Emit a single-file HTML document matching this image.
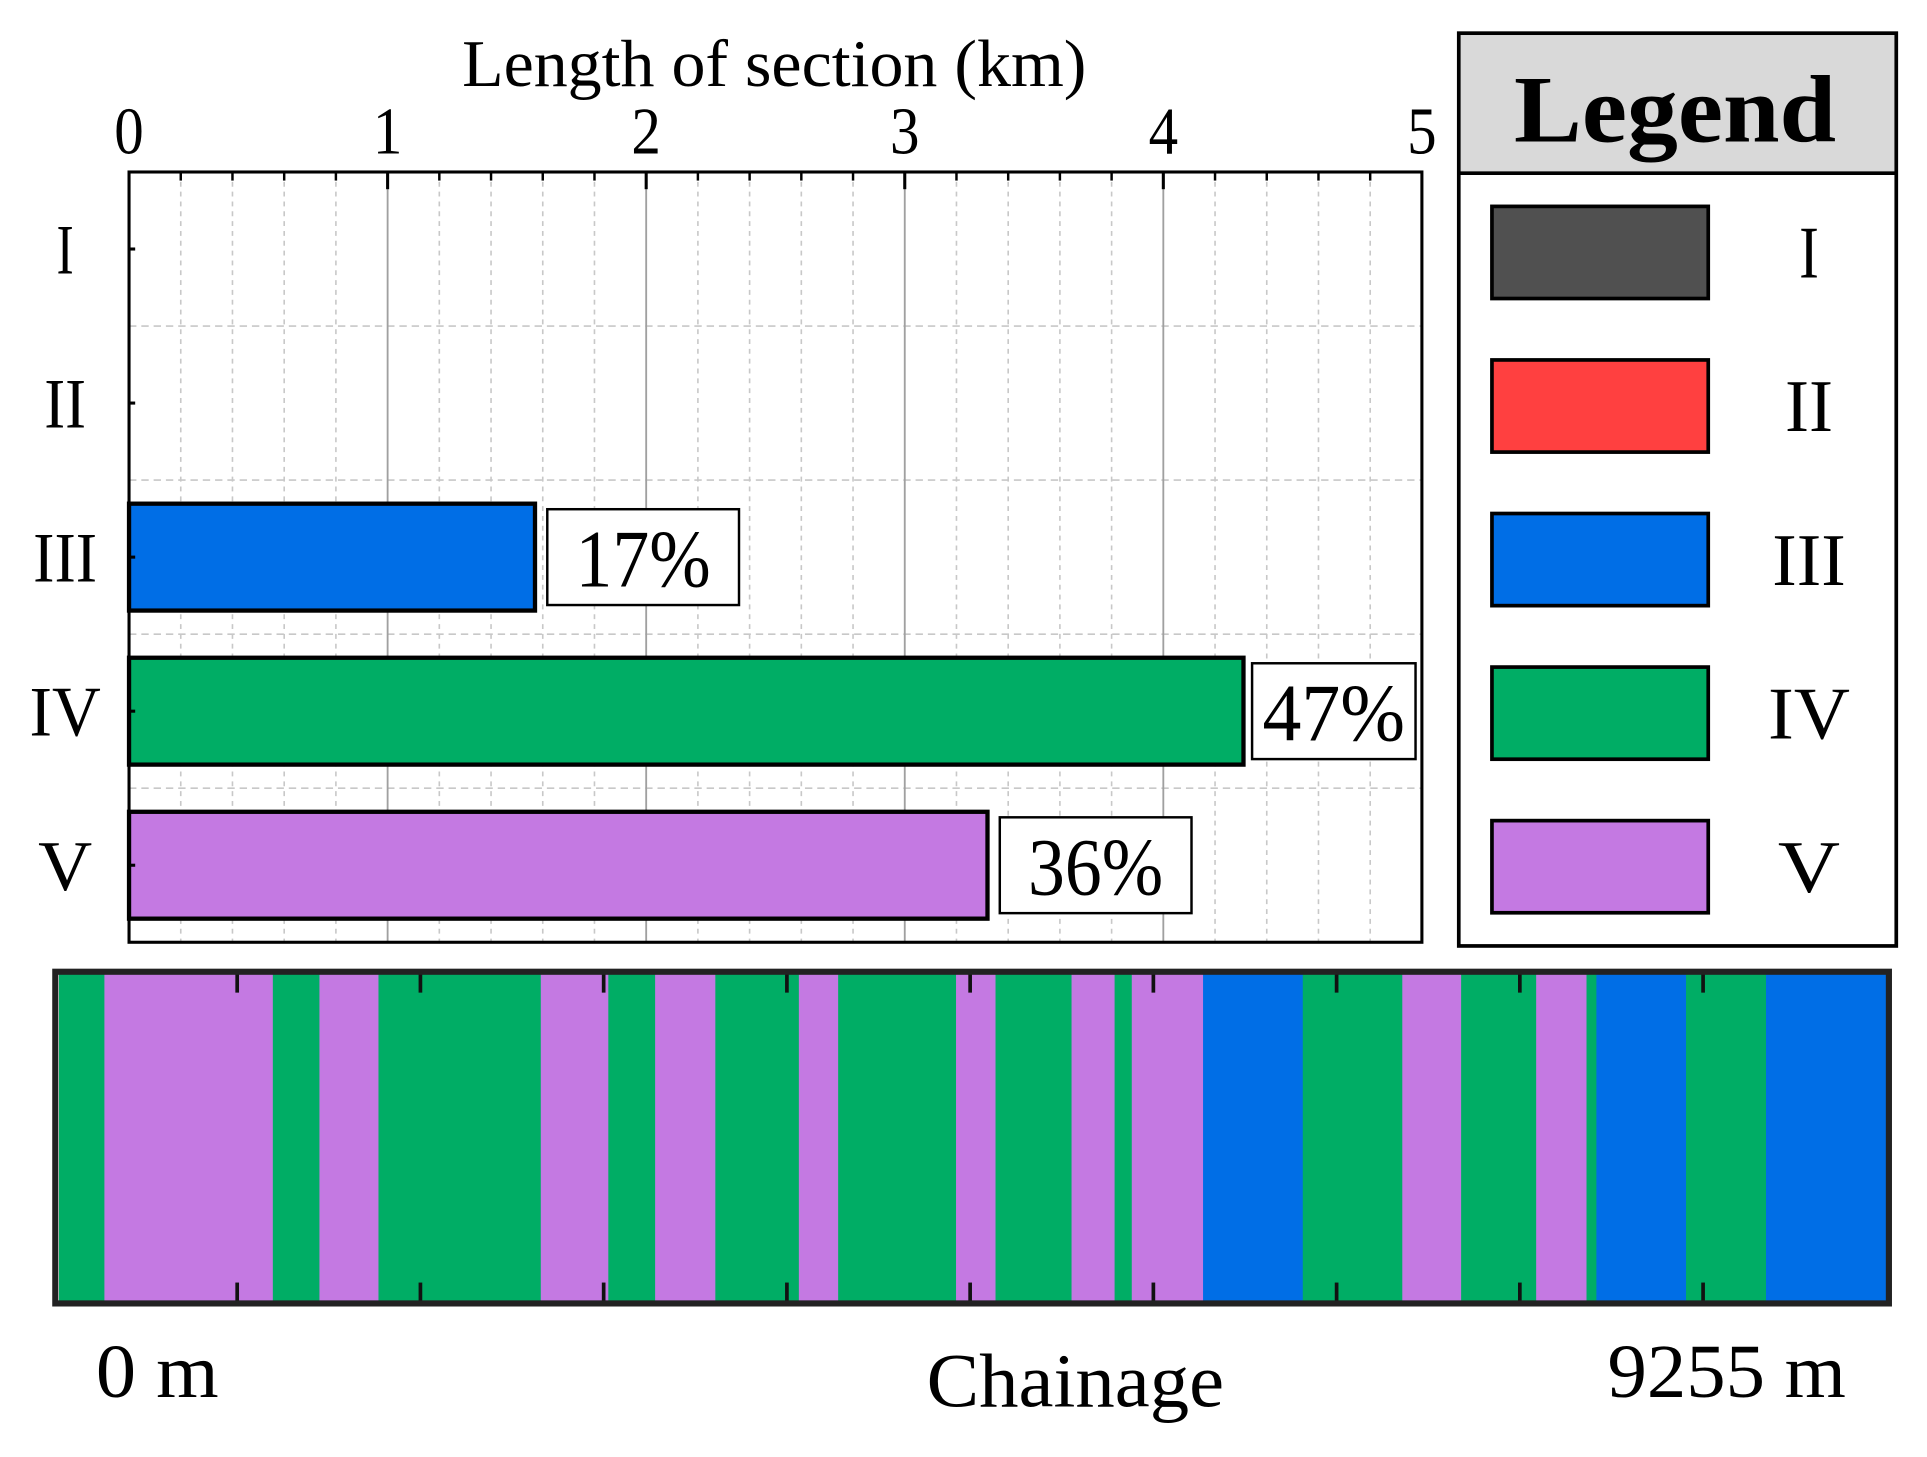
<!DOCTYPE html>
<html><head><meta charset="utf-8"><style>
html,body{margin:0;padding:0;background:#fff}
svg{display:block}
text{font-family:"Liberation Serif",serif;fill:#000}
</style></head><body>
<svg id="c" width="1927" height="1457" viewBox="0 0 1568 1186" preserveAspectRatio="none">
<g id="grid"></g>
<g id="bars"></g>
<g id="axes"></g>
<g id="legend"></g>
<g id="strip"></g>
</svg>
<script>
const categories = ["I","II","III","IV","V"];
const lengths = [0, 0, 1.57, 4.31, 3.32];
const percents = ["", "", "17%", "47%", "36%"];
const xTicks = [0,1,2,3,4,5];
const colors = ["#505050","#ff4040","#006ee6","#00ad65","#c479e2"];
// chainage segments: end positions in metres and class index
const segEnds = [230,1083,1319,1618,2440,2782,3019,3324,3747,3946,4543,4743,5128,5346,5433,5794,6299,6803,7101,7481,7736,7786,8240,8645,9255];
const segClass = [3,4,3,4,3,4,3,4,3,4,3,4,3,4,3,4,2,3,4,3,4,3,2,3,2];
const totalChainage = 9255;

const NS="http://www.w3.org/2000/svg";
function mk(tag, attrs, parent, txt){const e=document.createElementNS(NS,tag);for(const k in attrs)e.setAttribute(k,attrs[k]);if(txt!==undefined)e.textContent=txt;parent.appendChild(e);return e;}
const L=105,R=1157,T=140,B=767;
const xs=v=>L+(v/5)*(R-L);
const band=(B-T)/categories.length;
const yc=i=>T+band*(i+0.5);
const grid=document.getElementById('grid'),bars=document.getElementById('bars'),axes=document.getElementById('axes');
const romanW={"I":14,"II":34,"III":52,"IV":58,"V":44};

for(let k=1;k<25;k++){const v=k*0.2;if(k%5===0)continue;
 const l=mk('line',{x1:xs(v),x2:xs(v),y1:T,y2:B,stroke:'#c8c8c8','stroke-width':1.3,'stroke-dasharray':'4,4'},grid);
 
 
 mk('line',{x1:xs(v),x2:xs(v),y1:T,y2:T+7,stroke:'#000','stroke-width':2},axes);
}
for(let i=1;i<categories.length;i++){
 const l=mk('line',{x1:L,x2:R,y1:T+band*i,y2:T+band*i,stroke:'#c8c8c8','stroke-width':1.3,'stroke-dasharray':'6,4'},grid);
 
 
}
xTicks.forEach(v=>{
 if(v>0&&v<5){const l=mk('line',{x1:xs(v),x2:xs(v),y1:T,y2:B,stroke:'#a0a0a0','stroke-width':1.5},grid);
  
  
  mk('line',{x1:xs(v),x2:xs(v),y1:T,y2:T+14,stroke:'#000','stroke-width':2.5},axes);}
 const t=mk('text',{x:xs(v),y:125,'text-anchor':'middle','font-size':54,textLength:24,lengthAdjust:'spacingAndGlyphs'},axes,String(v));
 
 
});
mk('rect',{x:L,y:T,width:R-L,height:B-T,fill:'none',stroke:'#000','stroke-width':2.5},axes);
const title=mk('text',{x:630,y:70,'text-anchor':'middle','font-size':54,textLength:508,lengthAdjust:'spacingAndGlyphs'},axes,'Length of section (km)');



categories.forEach((c,i)=>{
 mk('line',{x1:L,x2:L+5,y1:yc(i),y2:yc(i),stroke:'#000','stroke-width':2.5},axes);
 const t=mk('text',{x:53,y:yc(i)+20,'text-anchor':'middle','font-size':58,textLength:romanW[c],lengthAdjust:'spacingAndGlyphs'},axes,c);
 
 
 if(lengths[i]>0){
  const bh=87,by=yc(i)-bh/2;
  const r=mk('rect',{x:L,y:by,width:xs(lengths[i])-L,height:bh,fill:colors[i],stroke:'#000','stroke-width':3.5},bars);
  
  
  const bw=(i===3)?133:156;
  const bx=(i===3)?xs(lengths[i])+7:xs(lengths[i])+10;
  const box=mk('rect',{x:bx,y:yc(i)-39,width:bw,height:78,fill:'#fff',stroke:'#000','stroke-width':2},bars);
  
  
  const pt=mk('text',{x:bx+bw/2,y:yc(i)+24,'text-anchor':'middle','font-size':66,textLength:(i===3)?116:110,lengthAdjust:'spacingAndGlyphs'},bars,percents[i]);
  
  
 }
});

const lg=document.getElementById('legend');
mk('rect',{x:1187,y:27,width:356,height:114,fill:'#d9d9d9'},lg);
mk('rect',{x:1187,y:27,width:356,height:743,fill:'none',stroke:'#000','stroke-width':3},lg);
mk('line',{x1:1187,x2:1543,y1:141,y2:141,stroke:'#000','stroke-width':3},lg);
const lt=mk('text',{x:1363,y:115,'text-anchor':'middle','font-size':78,'font-weight':'bold',textLength:262,lengthAdjust:'spacingAndGlyphs'},lg,'Legend');


categories.forEach((c,i)=>{
 const y=168+i*125;
 const s=mk('rect',{x:1214,y:y,width:176,height:75,fill:colors[i],stroke:'#000','stroke-width':3},lg);
 
 
 const t=mk('text',{x:1472,y:y+58,'text-anchor':'middle','font-size':60,textLength:romanW[c]*1.15,lengthAdjust:'spacingAndGlyphs'},lg,c);
 
 
});

const st=document.getElementById('strip');
const SL=48,SR=1535,ST=793,SB=1059;
const sx=m=>SL+(m/totalChainage)*(SR-SL);
let prev=0;
segEnds.forEach((e,i)=>{
 const r=mk('rect',{x:sx(prev),y:ST,width:sx(e)-sx(prev)+0.5,height:SB-ST,fill:colors[segClass[i]]},st);
 
 
 prev=e;
});
for(let k=1;k<=9;k++){const x=193+(k-1)*149.1;
 mk('line',{x1:x,x2:x,y1:ST,y2:ST+15,stroke:'#111','stroke-width':3},st);
 mk('line',{x1:x,x2:x,y1:SB-15,y2:SB,stroke:'#111','stroke-width':3},st);}
mk('rect',{x:45,y:791,width:1492,height:270,fill:'none',stroke:'#222','stroke-width':5},st);
const t0=mk('text',{x:78,y:1137,'font-size':62,textLength:100,lengthAdjust:'spacingAndGlyphs'},st,'0 m');


const tc=mk('text',{x:875,y:1145,'text-anchor':'middle','font-size':62,textLength:242,lengthAdjust:'spacingAndGlyphs'},st,'Chainage');


const te=mk('text',{x:1502,y:1137,'text-anchor':'end','font-size':62,textLength:194,lengthAdjust:'spacingAndGlyphs'},st,'9255 m');


</script>
</body></html>
